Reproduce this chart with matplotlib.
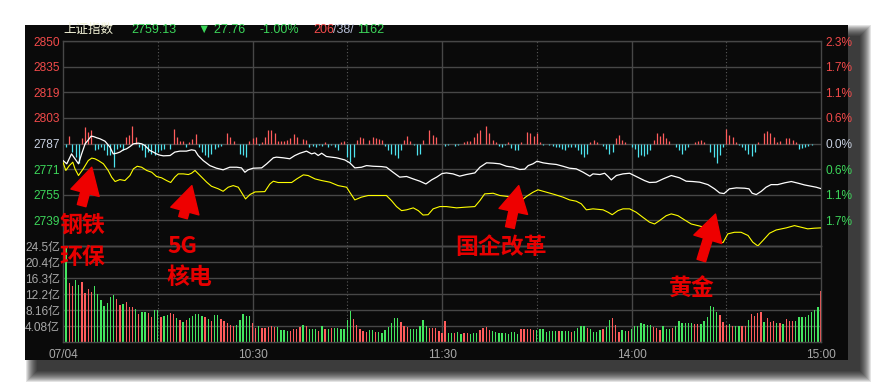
import numpy as np
import matplotlib.pyplot as plt
from matplotlib.patches import Rectangle

plt.rcParams['font.family'] = ['Liberation Sans', 'DejaVu Sans', 'Noto Sans CJK SC']

# ---- data ----
pre_close = 2786.89
step = 15.76

price_labels = ['2850', '2835', '2819', '2803', '2787', '2771', '2755', '2739']
pct_labels = ['2.3%', '1.7%', '1.1%', '0.6%', '0.0%', '0.6%', '1.1%', '1.7%']
vol_ticks = [4.08, 8.16, 12.2, 16.3, 20.4, 24.5]
vol_labels = ['4.08亿', '8.16亿', '12.2亿', '16.3亿', '20.4亿', '24.5亿']
time_ticks = [0, 60, 120, 180, 240]
time_labels = ['07/04', '10:30', '11:30', '14:00', '15:00']

# 上证指数 (white line)
idx_t = [0, 1.2, 2.7, 3.8, 4.9, 5.9, 7.0, 8.0, 8.9, 9.6, 10.7, 11.7, 13.3, 14.9, 15.9, 17.0, 18.0, 19.1,
         20.1, 21.2, 22.3, 23.8, 24.9, 25.9, 27.5, 28.6, 29.6, 30.7, 31.8, 33.9, 35.4, 37.0, 39.1, 40.7,
         41.8, 42.8, 44.4, 46.5, 48.6, 50.7, 52.8, 55.0, 56.5, 57.6, 58.6, 60.2, 62.9, 64.5, 66.6, 67.6,
         69.7, 71.8, 73.4, 75.0, 77.1, 78.7, 79.7, 80.8, 81.9, 83.4, 86.6, 89.2, 90.8, 92.4, 94.5, 96.1,
         98.2, 100.8, 102.4, 104.5, 106.6, 108.8, 110.9, 113.0, 114.9, 116.7, 118.3, 120.0, 121.4, 123.5,
         125.6, 127.7, 130.4, 132.0, 134.1, 136.2, 138.3, 140.4, 142.5, 144.6, 146.2, 147.3, 148.8, 150.1,
         152.0, 154.1, 156.2, 158.3, 160.4, 162.5, 164.7, 166.8, 167.8, 170.0, 171.5, 172.6, 173.6, 175.2,
         177.3, 179.4, 181.5, 184.1, 185.7, 187.8, 190.0, 192.6, 195.2, 197.3, 199.4, 201.6, 204.2, 206.3,
         207.9, 209.3, 211.0, 213.2, 215.8, 217.2, 218.2, 219.5, 221.1, 222.6, 224.2, 226.3, 228.5, 230.6,
         232.7, 234.8, 236.9, 238.5, 240]
idx_p = [2776.4, 2774.4, 2780.5, 2777.5, 2774.4, 2780.5, 2786.7, 2789.1, 2791.4, 2791.2, 2790.4, 2789.8,
         2788.3, 2784.6, 2780.5, 2780.9, 2781.6, 2783.0, 2783.6, 2785.0, 2786.7, 2787.1, 2786.7, 2785.7,
         2782.6, 2781.6, 2780.5, 2779.7, 2779.3, 2779.5, 2781.6, 2782.2, 2782.2, 2783.0, 2782.6, 2779.5,
         2776.4, 2773.3, 2771.7, 2770.7, 2772.3, 2772.3, 2771.9, 2769.2, 2770.7, 2771.7, 2771.9, 2774.4,
         2778.1, 2778.5, 2778.1, 2777.5, 2779.5, 2780.9, 2782.2, 2780.5, 2781.1, 2779.5, 2780.9, 2778.9,
         2778.1, 2776.8, 2775.0, 2771.9, 2772.3, 2773.3, 2772.9, 2772.7, 2772.3, 2769.2, 2766.2, 2766.6,
         2765.1, 2763.7, 2762.0, 2764.5, 2766.2, 2768.4, 2768.8, 2768.2, 2766.8, 2767.8, 2768.8, 2772.3,
         2775.0, 2774.8, 2774.4, 2772.9, 2772.3, 2770.9, 2771.1, 2773.3, 2774.4, 2776.0, 2775.0, 2774.4,
         2774.0, 2772.9, 2771.7, 2771.3, 2769.2, 2766.8, 2768.2, 2767.8, 2768.6, 2766.6, 2764.5, 2767.2,
         2768.2, 2768.6, 2766.6, 2764.1, 2762.9, 2763.1, 2765.1, 2767.2, 2765.8, 2763.7, 2763.5, 2763.1,
         2761.6, 2759.0, 2756.5, 2756.1, 2759.0, 2759.6, 2759.4, 2759.0, 2756.3, 2755.5, 2757.5, 2760.0,
         2761.6, 2761.6, 2762.7, 2763.5, 2762.5, 2761.4, 2760.6, 2760.0, 2759.13]

# 领先指标 (yellow line)
lead_t = [0, 0.9, 2.0, 3.1, 3.8, 4.9, 6.4, 8.0, 9.1, 10.1, 11.2, 12.8, 14.3, 15.4, 16.5, 18.0, 19.6, 21.2,
          22.3, 23.5, 24.9, 26.5, 28.1, 29.6, 31.2, 32.8, 34.1, 35.4, 36.5, 38.1, 39.7, 40.7, 41.8, 43.4,
          45.5, 47.0, 49.2, 50.7, 52.3, 53.9, 55.5, 56.5, 57.8, 59.2, 60.8, 63.9, 65.5, 66.6, 68.1, 72.4,
          74.0, 76.1, 77.6, 79.8, 81.9, 84.5, 87.1, 89.8, 90.8, 92.4, 94.5, 96.6, 98.7, 102.4, 104.0, 105.6,
          107.2, 108.8, 110.9, 112.5, 114.0, 115.6, 117.2, 119.3, 121.4, 124.6, 127.2, 130.4, 132.0, 133.5,
          136.2, 138.3, 140.9, 143.6, 145.1, 146.7, 148.8, 150.4, 153.1, 155.7, 158.3, 160.4, 162.5, 164.1,
          165.7, 167.8, 171.0, 172.6, 173.9, 175.7, 177.3, 179.4, 181.5, 183.6, 185.7, 187.3, 188.9, 191.0,
          192.6, 194.7, 196.8, 198.9, 201.0, 203.1, 204.7, 206.3, 207.7, 209.0, 210.5, 212.6, 214.7, 216.9,
          218.4, 220.0, 221.6, 223.7, 225.8, 229.0, 231.6, 233.7, 235.8, 237.9, 240]
lead_p = [2775.4, 2770.3, 2773.3, 2775.4, 2771.3, 2767.2, 2771.3, 2776.4, 2777.9, 2777.5, 2776.4, 2774.4,
          2770.3, 2766.2, 2763.5, 2764.7, 2764.1, 2767.2, 2771.3, 2772.9, 2772.3, 2770.3, 2769.2, 2766.6,
          2765.8, 2764.1, 2762.9, 2766.2, 2768.2, 2768.2, 2767.8, 2768.6, 2770.3, 2767.2, 2763.1, 2760.6,
          2759.0, 2757.5, 2760.0, 2761.0, 2760.0, 2756.9, 2752.8, 2755.5, 2757.1, 2757.3, 2762.0, 2763.7,
          2762.9, 2762.9, 2765.1, 2767.6, 2767.2, 2765.1, 2764.1, 2763.1, 2761.0, 2760.0, 2756.9, 2752.2,
          2753.9, 2754.9, 2754.9, 2754.9, 2751.8, 2748.1, 2745.6, 2746.1, 2747.3, 2745.6, 2742.9, 2743.1,
          2746.7, 2748.1, 2748.1, 2747.3, 2747.7, 2748.1, 2751.8, 2755.9, 2756.3, 2754.9, 2754.3, 2753.9,
          2751.8, 2754.3, 2756.9, 2758.4, 2756.9, 2755.5, 2753.9, 2752.2, 2751.4, 2749.8, 2746.1, 2746.7,
          2746.1, 2744.6, 2743.1, 2745.6, 2746.7, 2746.7, 2744.6, 2741.5, 2738.5, 2737.4, 2739.5, 2742.5,
          2743.6, 2742.5, 2739.9, 2737.4, 2736.4, 2735.4, 2733.7, 2730.3, 2726.2, 2726.0, 2731.3, 2732.3,
          2732.3, 2730.3, 2726.2, 2723.9, 2727.2, 2731.7, 2733.7, 2735.0, 2736.4, 2735.4, 2734.4, 2734.8,
          2735.0]

# red/cyan strength bars around previous close (points)
flow_t = [1, 2, 3, 4, 5, 6, 7, 8, 9, 10, 11, 12, 13, 14, 15, 16, 17, 18, 19, 20, 21, 22, 23, 24, 25, 26,
          27, 28, 29, 30, 31, 32, 34, 35, 36, 37, 38, 39, 40, 41, 42, 43, 44, 45, 46, 47, 48, 49, 50, 52,
          53, 54, 56, 57, 58, 59, 60, 61, 62, 63, 64, 65, 66, 67, 68, 69, 70, 71, 72, 73, 74, 76, 77, 78,
          79, 80, 81, 82, 83, 84, 85, 86, 87, 88, 89, 90, 91, 92, 93, 94, 95, 97, 98, 99, 100, 101, 102,
          103, 104, 105, 106, 107, 108, 109, 110, 111, 112, 113, 114, 116, 117, 118,
          121, 122, 124, 125, 127, 128, 129, 130, 131, 132, 134, 135, 136, 137, 138, 139, 140, 141, 142,
          143, 144, 145, 147, 148, 149, 150, 151, 152, 154, 155, 156, 157, 158, 159, 160, 161, 162, 163,
          164, 165, 166, 167, 168, 169, 171, 172, 173, 174, 175, 176, 177, 178, 180, 181, 182, 183, 184,
          185, 186, 187, 188, 189, 190, 191, 192, 194, 195, 196, 197, 198, 200, 201, 202, 203, 205, 206,
          207, 208, 209, 210, 211, 212, 213, 214, 215, 216, 217, 218, 219, 220, 222, 223, 224, 225, 226,
          227, 229, 230, 231, 232, 233, 234, 235, 236, 237, 239]
flow_v = [-2.1, 4.5, -5.1, -8.2, -12.3, 3.1, 10.3, 7.2, 8.2, -4.1, -3.1, -2.1, -4.1, -7.2, -7.2, -14.4,
          -3.1, -2.1, -4.1, 4.1, 5.1, 10.7, 4.1, -2.1, -4.1, -8.2, -5.1, -6.2, -7.2, -5.1, -4.1, -3.1,
          -3.1, 9.2, 4.1, 1.6, 1.6, -2.1, 1.0, 2.5, 5.7, -2.1, -5.1, -7.2, -8.2, -6.2, -3.1, -2.1, -1.6,
          6.2, 4.1, 1.6, -6.2, -7.2, -8.2, 1.6, 3.1, 4.1, -1.0, 1.0, 4.1, 8.6, 8.6, 6.6, 1.6, 1.6, 1.6,
          2.1, 3.1, 5.7, 4.1, 2.5, 2.1, -2.1, -1.6, -2.1, -1.0, -1.6, 1.0, -2.1, -1.0, -2.1, -4.1, 1.0,
          1.4, -8.2, -11.3, -8.2, 2.1, 3.7, 3.1, 2.1, 3.7, 3.1, 2.5, 2.1, -1.6, -4.1, -6.2, -7.2, -9.2,
          -4.1, 2.1, 4.5, 1.6, -1.0, -7.2, -6.2, 2.1, 8.2, 5.1, 4.1,
          -1.6, -1.0, -1.6, -1.0, 1.0, 1.6, 1.6, 4.1, 6.2, 8.2, 10.7, 6.2, 2.1, 1.0, -1.6, -2.1, -1.0,
          1.0, -2.5, -4.1, -3.7, 1.0, 7.2, 6.6, 4.5, 6.2, 1.0, -1.0, -1.0, -1.6, -2.1, -2.1, -3.1, -3.7,
          -2.1, -2.1, -2.1, -4.1, -6.2, -8.2, -6.2, 1.0, 2.1, 1.0, -1.6, -3.1, -6.2, -5.1, 3.1, 5.1, 2.1,
          1.0, -2.1, -3.1, -8.2, -7.2, -7.8, -6.2, -3.7, 2.1, 6.2, 4.5, 6.2, 3.1, 1.6, -2.1, -4.1, -6.2,
          -3.7, -2.1, 1.0, 1.6, 2.1, 1.0, -5.1, -8.2, -12.3, -7.2, -2.1, 9.2, 5.1, 4.1, 1.0, -1.0, -2.1,
          -4.1, -6.2, -7.8, -5.1, 1.0, 6.6, 7.6, 6.2, 4.1, 1.0, 1.6, 3.1, 3.1, 2.1, 1.0, -3.1, -2.5, -2.1,
          -1.6, -1.0, -0.4]

# 成交额 (亿), one bar per minute
vol_am = [12.0, 24.0, 15.1, 14.3, 15.8, 14.6, 15.2, 12.4, 13.4, 12.7,
          14.3, 12.2, 10.7, 9.2, 10.0, 11.6, 11.9, 11.1, 9.4, 9.8,
          10.2, 8.9, 8.9, 8.3, 7.1, 7.6, 7.6, 7.4, 6.5, 8.2,
          8.2, 6.3, 6.6, 6.9, 7.3, 7.1, 6.1, 5.6, 5.1, 5.6,
          6.1, 6.6, 7.1, 7.1, 6.6, 6.5, 5.9, 5.4, 6.8, 6.8,
          5.8, 5.4, 4.9, 4.4, 4.2, 4.3, 5.6, 7.1, 6.6, 6.6,
          4.8, 3.6, 4.1, 3.7, 3.7, 3.9, 4.2, 3.9, 3.9, 3.1,
          3.1, 2.9, 2.9, 3.2, 3.4, 3.9, 4.3, 4.2, 3.4, 3.2,
          3.2, 2.9, 4.1, 3.2, 3.4, 3.6, 3.6, 3.6, 3.2, 3.3,
          5.6, 7.9, 5.8, 4.3, 3.3, 2.8, 2.6, 3.1, 3.1, 2.6,
          2.6, 2.4, 3.1, 3.9, 4.8, 6.1, 6.0, 5.1, 4.2, 3.9,
          3.4, 3.2, 3.2, 4.0, 5.6, 4.2, 3.7, 3.6, 3.5, 2.9]
vol_pm = [2.4, 5.4, 2.4, 2.4, 2.2, 2.6, 2.0, 2.4, 2.4, 2.0,
          2.2, 2.4, 3.1, 3.7, 3.9, 3.1, 2.8, 2.6, 2.4, 2.2,
          2.2, 2.0, 2.5, 2.6, 2.0, 3.4, 3.3, 3.3, 3.3, 3.1,
          3.1, 3.2, 3.3, 2.6, 2.8, 2.9, 2.9, 2.8, 2.8, 2.8,
          2.8, 2.6, 2.9, 3.5, 4.1, 4.1, 3.5, 3.3, 2.6, 2.5,
          3.1, 3.3, 3.9, 5.6, 6.2, 4.3, 2.6, 3.1, 2.8, 2.9,
          3.2, 4.2, 4.2, 4.8, 4.5, 4.3, 4.3, 3.9, 3.5, 3.1,
          4.2, 3.3, 3.3, 3.7, 4.2, 5.4, 4.9, 4.8, 4.8, 4.9,
          4.6, 4.5, 4.5, 5.4, 6.5, 9.2, 9.0, 7.6, 6.9, 5.0,
          4.3, 4.6, 4.1, 4.1, 4.1, 4.1, 4.2, 5.6, 7.1, 6.6,
          7.5, 7.6, 5.2, 6.2, 5.2, 5.4, 4.9, 4.8, 4.6, 5.8,
          5.4, 5.4, 5.4, 6.3, 6.5, 6.5, 6.9, 7.7, 8.2, 9.0,
          13.1]
# r = up minute, g = down minute
col_am = ("ggrrggrrrr" "gggggggrrg" "rrrgrggrrg" "grggrrgrgr" "gggggrgrgg" "rrrrrggggg"
          "rrgrrrrrgg" "ggrrrrgrgg" "grgrgrgggg" "ggrrrrrggr" "gggggggrrr" "ggggggrrrr")
col_pm = ("rrggrggrrg" "ggrrrrgggg" "gggggrrrrr" "gggggggrgg" "grggggrggg" "grggrrrggr"
          "gggggggrrr" "gggrgggggg" "rrggggggrr" "rgrggrrgrr" "rrgrrrgrgr" "rrgggggggg" "r")

vol = vol_am + vol_pm
vol_col = col_am + col_pm

# ---- colours ----
RED = '#f24a4a'
GREEN = '#3cd65a'
GRAY = '#a8a8a8'
GRID = '#474747'

W, H = 873, 386


def box(x0, y0, x1, y1):
    return [x0 / W, 1 - y1 / H, (x1 - x0) / W, (y1 - y0) / H]


fig = plt.figure(figsize=(W / 100, H / 100), dpi=100, facecolor='white')

# drop shadow (right and bottom only) + dark panel
for k in range(12):
    r = k * 1.0
    fig.add_artist(Rectangle(((37 - r) / W, 1 - (371 + r) / H), (823 + 2 * r) / W, (335 + 2 * r) / H,
                             transform=fig.transFigure, color='black', alpha=0.11, lw=0, zorder=-10))
fig.add_artist(Rectangle((25 / W, 1 - 360 / H), 823 / W, 335 / H, transform=fig.transFigure,
                         color='#0a0a0a', lw=0, zorder=-5))

ax_p = fig.add_axes(box(63, 41, 821, 246))
ax_v = fig.add_axes(box(63, 246, 821, 342))
ax_p.set_zorder(3)

for ax in (ax_p, ax_v):
    ax.set_facecolor('none')
    ax.set_xlim(0, 240)
    for s in ax.spines.values():
        s.set_color(GRID)
        s.set_linewidth(1.0)
    for m in (30, 90, 150, 210):
        ax.axvline(m, color='#5a5a5a', lw=0.8, ls=(0, (1, 2)), zorder=0)
    for m in (60, 120, 180):
        ax.axvline(m, color=GRID, lw=1.0, zorder=0)

# price panel
levels = [pre_close + k * step for k in range(4, -5, -1)]
ax_p.set_ylim(levels[-1], levels[0])
for lv in levels:
    ax_p.axhline(lv, color=GRID, lw=1.0, zorder=0)

up = [v > 0 for v in flow_v]
ax_p.vlines(flow_t, pre_close, [pre_close + v for v in flow_v],
            colors=['#ff5c5c' if u else '#4ee4f0' for u in up], lw=0.9, zorder=2)
ax_p.plot(lead_t, lead_p, color='#ffff00', lw=0.8, zorder=3)
ax_p.plot(idx_t, idx_p, color='white', lw=0.9, zorder=4)

tick_lv = levels[:-1]
ax_p.set_yticks(tick_lv)
ax_p.set_yticklabels(price_labels)
ax_p.set_xticks([])
ax_p.tick_params(axis='y', length=0, pad=2, labelsize=8.6)
lab_cols = [RED] * 4 + ['#c8d0e0'] + [GREEN] * 3
for lbl, c in zip(ax_p.get_yticklabels(), lab_cols):
    lbl.set_color(c)

ax_r = ax_p.twinx()
ax_r.set_ylim(ax_p.get_ylim())
ax_r.set_yticks(tick_lv)
ax_r.set_yticklabels(pct_labels)
ax_r.tick_params(axis='y', length=0, pad=3, labelsize=8.6)
for s in ax_r.spines.values():
    s.set_visible(False)
for lbl, c in zip(ax_r.get_yticklabels(), lab_cols):
    lbl.set_color(c)

# volume panel
ax_v.set_ylim(0, 24.5)
for t in vol_ticks:
    ax_v.axhline(t, color=GRID, lw=1.0, zorder=0)
ax_v.bar(np.arange(len(vol)), vol, width=0.42,
         color=['#ff5c5c' if c == 'r' else '#44e660' for c in vol_col], lw=0, zorder=2)
ax_v.set_yticks(vol_ticks)
ax_v.set_yticklabels(vol_labels)
ax_v.set_xticks(time_ticks)
ax_v.set_xticklabels(time_labels)
ax_v.tick_params(length=0, labelsize=8.6, labelcolor=GRAY)
ax_v.tick_params(axis='y', pad=2)
ax_v.tick_params(axis='x', pad=5)

# header
hy = 1 - 30 / H
fig.text(63 / W, hy, '上证指数', color='#f4f4d8', fontsize=9, va='center')
fig.text(131 / W, hy, '2759.13', color=GREEN, fontsize=9, va='center')
fig.text(198 / W, hy, '▼ 27.76', color=GREEN, fontsize=9, va='center')
fig.text(259 / W, hy, '-1.00%', color=GREEN, fontsize=9, va='center')
fig.text(313 / W, hy, '206', color=RED, fontsize=9, va='center')
fig.text(333 / W, hy, '/38/', color='#b4bcd4', fontsize=9, va='center')
fig.text(357 / W, hy, '1162', color=GREEN, fontsize=9, va='center')

# red annotations
ann = dict(color='#e80000', fontsize=16.5, fontweight='bold', va='center',
           family=['Noto Sans CJK SC', 'DejaVu Sans'], zorder=10)
fig.text(59 / W, 1 - 225 / H, '钢铁', **ann)
fig.text(59 / W, 1 - 257 / H, '环保', **ann)
fig.text(167 / W, 1 - 246 / H, '5G', **ann)
fig.text(167 / W, 1 - 277 / H, '核电', **ann)
fig.text(455 / W, 1 - 248 / H, '国企改革', **ann)
fig.text(669 / W, 1 - 289 / H, '黄金', **ann)

arrows = [((9.1, 2772.3), (5.9, 2748.7)),
          ((40.8, 2761.0), (38.0, 2741.3)),
          ((144.3, 2761.0), (141.5, 2735.2)),
          ((206.6, 2743.5), (202.1, 2714.9))]
for tip, tail in arrows:
    ax_p.annotate('', xy=tip, xytext=tail, annotation_clip=False,
                  arrowprops=dict(arrowstyle='simple,head_length=0.95,head_width=1.05,tail_width=0.32',
                                  color='#ee0000', mutation_scale=20, shrinkA=0, shrinkB=0))

fig.savefig('out.png', dpi=100, facecolor='white')
